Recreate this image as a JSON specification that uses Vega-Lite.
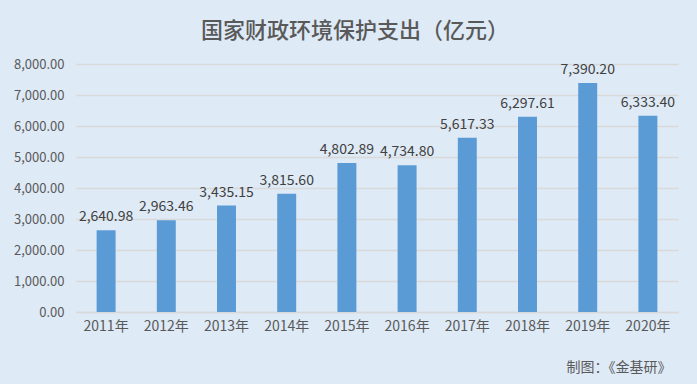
{
  "$schema": "https://vega.github.io/schema/vega-lite/v6.json",
  "width": 602,
  "height": 248,
  "autosize": {"type": "none"},
  "padding": {"left": 76, "top": 64, "right": 19, "bottom": 72},
  "background": "#DEEAF6",
  "title": {
    "text": "国家财政环境保护支出（亿元）",
    "font": "Noto Sans CJK SC",
    "fontSize": 22,
    "fontWeight": 500,
    "color": "#595959",
    "anchor": "middle",
    "dx": -22,
    "offset": 15
  },
  "data": {
    "values": [
      {"year": "2011年", "value": 2640.98},
      {"year": "2012年", "value": 2963.46},
      {"year": "2013年", "value": 3435.15},
      {"year": "2014年", "value": 3815.60},
      {"year": "2015年", "value": 4802.89},
      {"year": "2016年", "value": 4734.80},
      {"year": "2017年", "value": 5617.33},
      {"year": "2018年", "value": 6297.61},
      {"year": "2019年", "value": 7390.20},
      {"year": "2020年", "value": 6333.40}
    ]
  },
  "encoding": {
    "x": {
      "field": "year",
      "type": "nominal",
      "sort": null,
      "scale": {"paddingInner": 0.685, "paddingOuter": 0.3425},
      "axis": {
        "title": "制图：《金基研》",
        "titleFont": "Noto Sans CJK SC",
        "titleFontSize": 14,
        "titleFontWeight": "normal",
        "titleColor": "#595959",
        "titleAnchor": "end",
        "titleAlign": "right",
        "titleX": 595,
        "titleY": 48,
        "labelAngle": 0,
        "labelFont": "Noto Sans CJK SC",
        "labelFontSize": 14,
        "labelColor": "#595959",
        "labelPadding": 7,
        "ticks": false,
        "domainColor": "#D9D9D9",
        "domainWidth": 1.5
      }
    },
    "y": {
      "field": "value",
      "type": "quantitative",
      "scale": {"domain": [0, 8000], "nice": false},
      "axis": {
        "title": null,
        "values": [0, 1000, 2000, 3000, 4000, 5000, 6000, 7000, 8000],
        "format": ",.2f",
        "labelFont": "Noto Sans CJK SC",
        "labelFontSize": 13,
        "labelColor": "#595959",
        "labelPadding": 12,
        "ticks": false,
        "domain": false,
        "gridColor": "#D9D9D9",
        "gridWidth": 1.5
      }
    }
  },
  "layer": [
    {"mark": {"type": "bar", "color": "#5B9BD5"}},
    {
      "mark": {
        "type": "text",
        "baseline": "bottom",
        "dy": -6,
        "font": "Noto Sans CJK SC",
        "fontSize": 14,
        "color": "#404040"
      },
      "encoding": {"text": {"field": "value", "type": "quantitative", "format": ",.2f"}}
    }
  ],
  "config": {"view": {"stroke": null}}
}
